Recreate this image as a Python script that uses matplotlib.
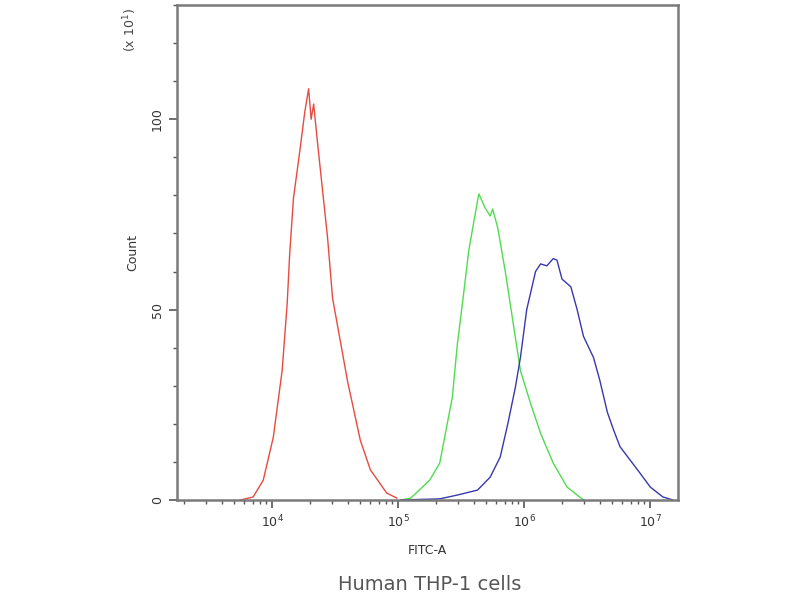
import matplotlib
matplotlib.use("Agg")
import matplotlib.pyplot as plt
from matplotlib.ticker import LogLocator, MultipleLocator, FixedLocator
import numpy as np

# log10(FITC-A) and counts (x10^1)
red_logx = [3.75, 3.85, 3.93, 4.01, 4.08, 4.12, 4.14, 4.17, 4.22, 4.26, 4.29, 4.31,
            4.33, 4.36, 4.44, 4.48, 4.60, 4.70, 4.78, 4.91, 4.99]
red_count = [0, 0.8, 5.2, 16.5, 34, 51.6, 64.7, 79.3, 91.6, 102, 108, 100,
             104, 94, 69, 53, 31, 15.7, 7.9, 1.8, 0.5]

green_logx = [5.02, 5.10, 5.25, 5.33, 5.43, 5.47, 5.51, 5.56, 5.60, 5.64, 5.69, 5.73,
              5.75, 5.79, 5.85, 5.91, 5.97, 6.05, 6.13, 6.23, 6.34, 6.47]
green_count = [0, 0.5, 5.2, 9.7, 27, 41, 51.6, 65.4, 73, 80.4, 76.7, 74.6,
               76.4, 71.5, 60, 47, 34, 25.4, 17.5, 9.7, 3.4, 0]

blue_logx = [5.02, 5.33, 5.47, 5.63, 5.73, 5.81, 5.87, 5.93, 5.97, 6.02, 6.09, 6.13,
             6.18, 6.23, 6.26, 6.30, 6.37, 6.42, 6.47, 6.55, 6.60, 6.66, 6.71, 6.76,
             6.84, 6.92, 7.00, 7.10, 7.18]
blue_count = [0, 0.3, 1.3, 2.6, 6, 11.3, 20, 29.6, 37.4, 50, 60, 62,
              61.5, 63.4, 63, 58, 56, 50, 43, 37.4, 31.4, 23, 18.3, 14,
              10.5, 7, 3.4, 0.8, 0]

ytick_vals = [0, 50, 100]
ytick_labels = ["0", "50", "100"]

fig = plt.figure(figsize=(8, 6), dpi=100)
ax = fig.add_axes([177/800, 1 - 500/600, (678-177)/800, (500-5)/600])

ax.plot(10**np.array(red_logx), red_count, color="#e84a3f", lw=1.0)
ax.plot(10**np.array(green_logx), green_count, color="#4fdc4f", lw=1.0)
ax.plot(10**np.array(blue_logx), blue_count, color="#3838b0", lw=1.0)

ax.set_xscale("log")
ax.set_xlim(10**3.246, 10**7.22)
ax.set_ylim(0, 130)

ax.xaxis.set_major_locator(LogLocator(base=10, numticks=10))
ax.xaxis.set_minor_locator(LogLocator(base=10, subs=np.arange(2, 10), numticks=20))
ax.yaxis.set_major_locator(FixedLocator(ytick_vals))
ax.yaxis.set_minor_locator(MultipleLocator(10))
ax.set_yticklabels(ytick_labels, rotation=90, va="center")

for s in ax.spines.values():
    s.set_color("#7a7a7a")
    s.set_linewidth(1.8)

ax.tick_params(axis="both", which="major", direction="out", length=6, width=1.2,
               color="#555555", labelsize=9, labelcolor="#333333")
ax.tick_params(axis="both", which="minor", direction="out", length=3, width=1.0,
               color="#555555")
ax.tick_params(axis="x", pad=4)

ax.set_xlabel("FITC-A", fontsize=9, color="#333333", labelpad=10)
ax.set_ylabel("Count", fontsize=9, color="#333333", labelpad=8)

fig.text(130/800, 1 - 30/600, r"(x 10$^1$)", rotation=90, fontsize=9,
         color="#444444", ha="center", va="center")
fig.text(430/800, 1 - 585/600, "Human THP-1 cells", fontsize=14,
         color="#555555", ha="center", va="center")

fig.savefig("out.png", dpi=100, facecolor="white")
